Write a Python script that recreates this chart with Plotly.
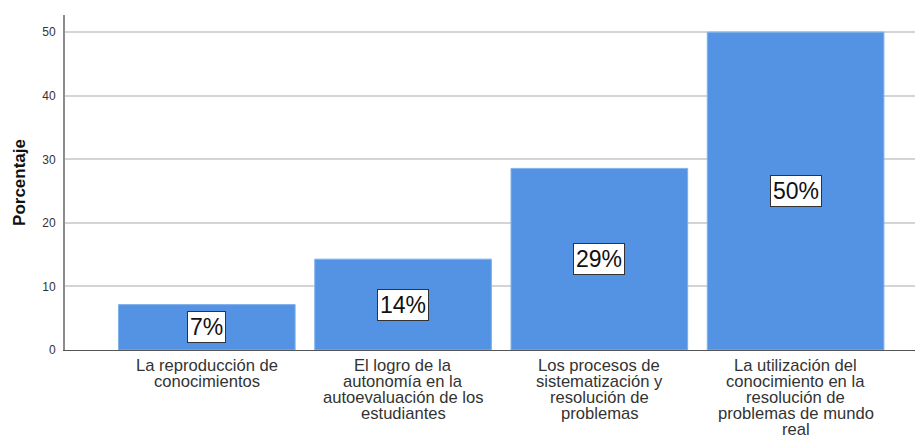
import plotly.graph_objects as go

categories = [
    "La reproducción de<br>conocimientos",
    "El logro de la<br>autonomía en la<br>autoevaluación de los<br>estudiantes",
    "Los procesos de<br>sistematización y<br>resolución de<br>problemas",
    "La utilización del<br>conocimiento en la<br>resolución de<br>problemas de mundo<br>real",
]
values = [7.14, 14.29, 28.57, 50.0]
value_labels = ["7%", "14%", "29%", "50%"]
y_ticks = [0, 10, 20, 30, 40, 50]

FONT = "Liberation Sans, Arial, sans-serif"
xs = list(range(len(categories)))

fig = go.Figure(go.Bar(
    x=xs, y=values, width=0.9,
    marker=dict(color="#5493e3", line=dict(color="#7fb0ec", width=1)),
    hoverinfo="skip",
))

annotations = []
for i, (v, lab) in enumerate(zip(values, value_labels)):
    annotations.append(dict(
        x=i, y=v / 2, xref="x", yref="y", text=lab, showarrow=False,
        font=dict(family=FONT, size=23, color="#111"),
        bgcolor="white", bordercolor="#333", borderwidth=1, borderpad=2,
    ))
for i, cat in enumerate(categories):
    for j, line in enumerate(cat.split("<br>")):
        annotations.append(dict(
            x=i, y=0, xref="x", yref="paper", text=line, showarrow=False,
            yanchor="top", yshift=-4 - j * 16.1,
            font=dict(family=FONT, size=16.6, color="#333"),
        ))

fig.update_layout(
    width=923, height=436,
    margin=dict(l=57, r=10, t=7, b=94),
    paper_bgcolor="white", plot_bgcolor="white",
    showlegend=False,
    font=dict(family=FONT),
    annotations=annotations,
    xaxis=dict(
        range=[-0.7226, 3.639], showticklabels=False, showgrid=False,
        zeroline=False, showline=True, linecolor="#555", linewidth=1,
        fixedrange=True,
    ),
    yaxis=dict(
        range=[0, 52.7], tickvals=y_ticks, showgrid=True,
        gridcolor="#d4d4d4", gridwidth=1.5, zeroline=False,
        showline=True, linecolor="#8c8c8c", linewidth=2,
        tickfont=dict(family=FONT, size=12, color="#333"),
        ticklabelstandoff=5,
        title=dict(text="<b>Porcentaje</b>", font=dict(family=FONT, size=17, color="#111"),
                   standoff=12),
    ),
)

fig.write_html("out.html")
